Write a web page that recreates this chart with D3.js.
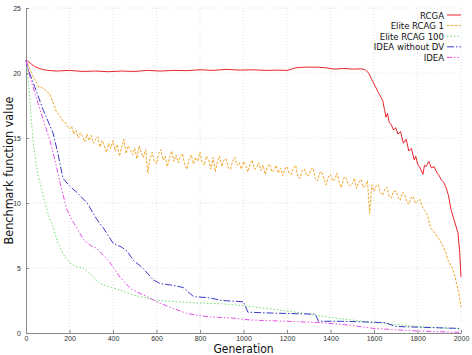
<!DOCTYPE html>
<html>
<head>
<meta charset="utf-8">
<script src="https://cdn.jsdelivr.net/npm/d3@7"></script>
<style>
  body { margin: 0; background: #fff; }
  svg { display: block; font-family: "DejaVu Sans Condensed", "DejaVu Sans", sans-serif; }
</style>
</head>
<body>
<svg class="chart" width="472" height="355"></svg>
<script>
const xTicks = [0, 200, 400, 600, 800, 1000, 1200, 1400, 1600, 1800, 2000];
const yTicks = [0, 5, 10, 15, 20, 25];

const seriesNames = ["RCGA", "Elite RCAG 1", "Elite RCAG 100", "IDEA without DV", "IDEA"];

// RCGA, [generation, value]
const rcga = [[0,21.0],[20,20.75],[40,20.5],[60,20.35],[80,20.25],[100,20.2],[140,20.15],[200,20.2],
  [260,20.12],[320,20.15],[380,20.1],[440,20.15],[500,20.12],[560,20.2],[620,20.15],[680,20.2],
  [740,20.18],[800,20.25],[860,20.2],[920,20.28],[980,20.22],[1040,20.25],[1100,20.2],[1160,20.22],
  [1200,20.2],[1240,20.4],[1280,20.45],[1340,20.45],[1380,20.4],[1420,20.3],[1460,20.35],[1500,20.3],
  [1540,20.32],[1560,20.25],[1575,20.0],[1590,19.5],[1605,19.0],[1620,18.5],[1640,17.9],[1648,17.2],
  [1655,16.6],[1662,16.9],[1670,16.2],[1680,16.0],[1690,15.6],[1700,15.8],[1710,15.3],[1722,15.5],
  [1735,14.6],[1748,14.9],[1760,14.0],[1772,14.2],[1785,13.3],[1792,13.6],[1800,13.0],[1812,12.7],
  [1825,12.2],[1832,12.9],[1840,12.8],[1852,13.2],[1864,12.7],[1876,12.8],[1890,12.3],[1900,12.1],
  [1908,11.8],[1920,11.6],[1931,11.2],[1942,10.6],[1954,9.5],[1970,8.6],[1986,7.7],[1994,6.2],[2000,4.3]];

// Elite RCAG 1, one value every 10 generations
const elite1 = [
  21.0,20.6,20.2,19.8,19.5,19.2,18.9,18.9,18.8,18.7,
  18.5,18.4,17.9,17.5,17.0,16.8,16.6,16.3,16.2,15.9,
  15.7,15.9,15.3,15.6,15.0,15.4,15.1,14.7,15.3,14.8,
  15.2,14.6,14.9,15.1,14.3,14.8,14.4,13.9,14.6,14.2,
  14.8,14.0,14.5,13.6,14.3,14.9,13.8,14.4,14.1,13.7,
  14.2,13.4,14.4,13.9,13.5,14.1,12.3,13.4,13.9,13.2,
  13.0,13.8,14.1,13.3,13.6,12.8,13.5,14.0,13.2,13.7,
  13.1,13.6,13.8,12.9,12.6,13.4,13.7,13.0,13.5,13.2,
  13.9,13.1,12.9,13.6,13.3,12.6,13.5,12.4,13.2,13.6,
  12.8,13.3,13.4,12.7,12.6,13.2,13.5,12.9,13.1,12.6,
  13.2,12.9,12.4,13.0,13.3,12.6,12.7,13.1,12.5,12.9,
  12.2,12.8,13.0,12.4,12.5,12.9,12.3,12.7,12.1,12.6,
  12.8,12.3,12.2,12.7,12.9,12.0,11.9,12.5,12.6,12.1,
  12.1,12.6,12.7,11.9,11.7,12.3,12.4,11.8,11.4,12.0,
  12.2,11.7,11.8,12.3,11.6,11.2,11.9,12.0,11.5,11.3,
  11.5,11.9,11.1,11.6,11.8,11.2,11.3,11.7,9.2,11.4,
  10.9,11.3,11.4,10.8,10.6,11.1,11.2,10.5,10.4,10.9,
  10.9,10.5,10.2,10.8,10.7,10.1,9.9,10.4,10.5,10.0,
  10.1,10.3,9.8,9.5,9.3,8.8,8.1,7.9,7.7,7.4,
  7.2,6.9,6.6,6.2,5.6,5.3,5.0,4.5,3.8,3.0,
  2.0];

const elite100 = [[0,21.0],[10,19.5],[18,17.9],[32,14.8],[45,13.2],[55,12.2],[64,11.6],[87,10.0],
  [105,9.0],[124,8.2],[145,7.0],[170,6.1],[202,5.4],[230,5.1],[262,5.0],[294,4.6],[320,4.1],[340,3.8],
  [372,3.6],[432,3.3],[480,3.0],[524,2.8],[602,2.5],[700,2.4],[800,2.3],[900,2.25],[1000,2.1],
  [1100,1.9],[1200,1.7],[1300,1.45],[1400,1.2],[1500,1.0],[1600,0.8],[1700,0.65],[1800,0.5],
  [1900,0.4],[2000,0.3]];

const ideaNoDv = [[0,21.0],[5,20.5],[41,18.9],[78,17.2],[124,15.4],[147,13.8],[170,11.9],[200,11.3],
  [235,10.8],[281,10.0],[327,8.7],[355,8.1],[401,6.9],[440,6.6],[465,6.3],[493,5.6],[530,5.1],
  [558,4.6],[585,4.1],[617,3.8],[663,3.7],[723,3.5],[770,2.8],[847,2.7],[900,2.5],[1000,2.4],
  [1020,1.6],[1100,1.55],[1200,1.5],[1330,1.45],[1345,0.9],[1450,0.9],[1560,0.85],[1650,0.8],
  [1700,0.5],[1800,0.45],[1900,0.4],[2000,0.35]];

const idea = [[0,21.0],[18,19.7],[64,17.2],[110,14.8],[133,13.3],[157,11.5],[188,9.5],[218,8.5],
  [264,7.2],[300,6.7],[327,6.5],[387,5.4],[432,4.3],[470,3.6],[493,3.3],[556,2.8],[602,2.4],
  [660,2.0],[740,1.5],[832,1.25],[950,1.15],[1030,1.0],[1200,0.9],[1350,0.8],[1490,0.6],
  [1600,0.35],[1700,0.25],[1800,0.15],[1900,0.1],[2000,0.05]];

const colours = ["#e8252c", "#f0a524", "#6fe06f", "#3a3ac8", "#e64de6"];
const dashes = [null, "2.5,1.5", "1.5,2", "7,2,1.5,2", "5,2,1.5,2,1.5,2"];

const width = 472, height = 355;
const margin = {top: 8, right: 11, bottom: 22, left: 26};

const svg = d3.select(".chart");
const chart = svg.append("g");

const x = d3.scaleLinear().domain([0, 2000]).range([margin.left, width - margin.right]);
const y = d3.scaleLinear().domain([0, 25]).range([height - margin.bottom, margin.top]);

// grid
chart.selectAll(".vgrid").data(xTicks.slice(1)).enter().append("line")
  .attr("x1", d => x(d)).attr("x2", d => x(d))
  .attr("y1", y(0)).attr("y2", y(25))
  .style("stroke", "#cfcfcf").style("stroke-width", 0.6).style("stroke-dasharray", "1,2");
chart.selectAll(".hgrid").data(yTicks.slice(1)).enter().append("line")
  .attr("x1", x(0)).attr("x2", x(2000))
  .attr("y1", d => y(d)).attr("y2", d => y(d))
  .style("stroke", "#cfcfcf").style("stroke-width", 0.6).style("stroke-dasharray", "1,2");

// axes
const xAxis = chart.append("g")
  .attr("transform", `translate(0,${y(0)})`)
  .call(d3.axisBottom(x).tickValues(xTicks).tickFormat(d3.format("d"))
    .tickSizeInner(-3).tickSizeOuter(0).tickPadding(3));
const yAxis = chart.append("g")
  .attr("transform", `translate(${x(0)},0)`)
  .call(d3.axisLeft(y).tickValues(yTicks).tickSizeInner(-3).tickSizeOuter(0).tickPadding(5));
[xAxis, yAxis].forEach(a => {
  a.select(".domain").style("stroke", "#8a8a8a");
  a.selectAll(".tick line").style("stroke", "#8a8a8a");
  a.selectAll("text").style("font-size", "7px").style("fill", "#333")
    .style("font-family", "'Liberation Sans', Arial, sans-serif");
});

chart.append("text")
  .attr("x", x(1000)).attr("y", 353)
  .attr("text-anchor", "middle")
  .style("font-size", "12px").style("fill", "#111")
  .text("Generation");

chart.append("text")
  .attr("transform", `translate(13,${y(12.5)}) rotate(-90)`)
  .attr("text-anchor", "middle")
  .style("font-size", "12.5px").style("fill", "#111")
  .text("Benchmark function value");

// series
const line = d3.line().x(d => x(d[0])).y(d => y(d[1]));
const elite1Pts = elite1.map((v, i) => [i * 10, v]);
const allSeries = [rcga, elite1Pts, elite100, ideaNoDv, idea];

chart.selectAll(".series").data(allSeries).enter().append("path")
  .attr("class", "series")
  .attr("d", d => line(d))
  .style("fill", "none")
  .style("stroke", (d, i) => colours[i])
  .style("stroke-width", 1)
  .style("stroke-dasharray", (d, i) => dashes[i]);

// legend
const legend = chart.selectAll(".legend").data(seriesNames).enter().append("g")
  .attr("transform", (d, i) => `translate(0,${15 + i * 10.6})`);
legend.append("text")
  .attr("x", 444).attr("y", 3.5)
  .attr("text-anchor", "end")
  .style("font-size", "9.5px").style("fill", "#111")
  .text(d => d);
legend.append("line")
  .attr("x1", 447).attr("x2", 461).attr("y1", 0).attr("y2", 0)
  .style("stroke", (d, i) => colours[i])
  .style("stroke-width", 1)
  .style("stroke-dasharray", (d, i) => dashes[i]);
</script>
</body>
</html>
